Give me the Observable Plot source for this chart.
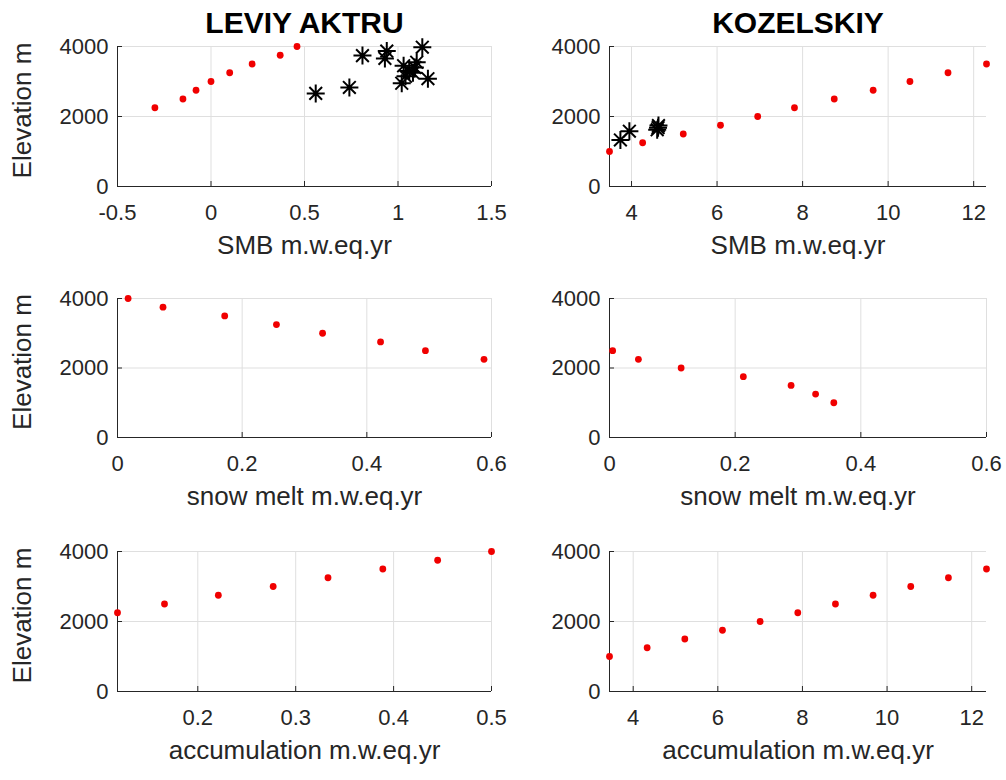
<!DOCTYPE html>
<html><head><meta charset="utf-8">
<script src="https://cdn.jsdelivr.net/npm/d3@7"></script>
<script src="https://cdn.jsdelivr.net/npm/@observablehq/plot@0.6"></script>
<style>
body{margin:0;background:#fff;}
#fig{position:relative;width:1006px;height:780px;overflow:hidden;background:#fff;}
#fig svg{position:absolute;overflow:visible;background:none;}
</style></head><body><div id="fig"></div>
<script>
// ---- data ----
const titles = ["LEVIY AKTRU", "KOZELSKIY"];
const xLabels = ["SMB m.w.eq.yr", "snow melt m.w.eq.yr", "accumulation m.w.eq.yr"];
const yLabel = "Elevation m";

const elevLeviy = [2250, 2500, 2750, 3000, 3250, 3500, 3750, 4000];
const smbLeviy = [-0.30, -0.15, -0.08, 0.00, 0.10, 0.22, 0.37, 0.46];
const meltLeviy = [0.588, 0.494, 0.422, 0.329, 0.255, 0.172, 0.073, 0.017];
const accLeviy = [0.118, 0.166, 0.221, 0.277, 0.333, 0.389, 0.445, 0.50];
const obsSmbLeviy = [0.56, 0.74, 0.81, 0.94, 0.93, 1.02, 1.03, 1.04, 1.06, 1.08, 1.09, 1.10, 1.13, 1.16];
const obsElevLeviy = [2660, 2830, 3740, 3870, 3660, 2950, 3450, 3150, 3300, 3250, 3400, 3550, 3980, 3080];

const elevKoz = [1000, 1250, 1500, 1750, 2000, 2250, 2500, 2750, 3000, 3250, 3500];
const smbKoz = [3.485, 4.26, 5.21, 6.08, 6.95, 7.81, 8.74, 9.65, 10.51, 11.40, 12.30];
const accKoz = [3.44, 4.33, 5.22, 6.11, 7.00, 7.89, 8.78, 9.67, 10.56, 11.45, 12.35];
const elevKozMelt = [2500, 2250, 2000, 1750, 1500, 1250, 1000];
const meltKoz = [0.005, 0.046, 0.114, 0.213, 0.289, 0.328, 0.357];
const obsSmbKoz = [3.74, 3.95, 4.60, 4.63, 4.62];
const obsElevKoz = [1330, 1580, 1620, 1740, 1680];

const elevTicks = [0, 2000, 4000];
const ticksSmbLeviy = [-0.5, 0, 0.5, 1, 1.5];
const ticksSmbKoz = [4, 6, 8, 10, 12];
const ticksMelt = [0, 0.2, 0.4, 0.6];
const ticksAccLeviy = [0.2, 0.3, 0.4, 0.5];
const ticksAccKoz = [4, 6, 8, 10, 12];

// ---- styling ----
const FONT = '"Liberation Sans", Arial, Helvetica, sans-serif';
const INK = "#262626";
const GRID = "#dfdfdf";

const asterisk = {
  draw(ctx, size) {
    const r = Math.sqrt(size / Math.PI), d = r * Math.SQRT1_2;
    ctx.moveTo(-r, 0); ctx.lineTo(r, 0);
    ctx.moveTo(0, -r); ctx.lineTo(0, r);
    ctx.moveTo(-d, -d); ctx.lineTo(d, d);
    ctx.moveTo(-d, d); ctx.lineTo(d, -d);
  }
};

const cols = [
  {left: 0, width: 503, ml: 117, mr: 12},
  {left: 503, width: 503, ml: 106, mr: 20}
];
const rows = [
  {top: 0, height: 270, mt: 46, mb: 84, labelDy: 59},
  {top: 270, height: 250, mt: 28, mb: 83, labelDy: 59},
  {top: 520, height: 260, mt: 31, mb: 89, labelDy: 59}
];

function panel(o) {
  const c = cols[o.col], rw = rows[o.row];
  const fw = c.width - c.ml - c.mr, fh = rw.height - rw.mt - rw.mb;
  const pts = o.x.map((v, i) => ({x: v, y: o.y[i]}));
  const obs = o.obsX ? o.obsX.map((v, i) => ({x: v, y: o.obsY[i]})) : [];
  const marks = [
    Plot.gridX(o.xTicks, {stroke: GRID, strokeOpacity: 1}),
    Plot.gridY(elevTicks, {stroke: GRID, strokeOpacity: 1}),
    Plot.ruleY([0], {stroke: INK}),
    Plot.ruleX([o.xDomain[0]], {stroke: INK}),
    Plot.tickX(o.xTicks, {x: d => d, insetTop: fh - 5, stroke: INK}),
    Plot.tickY(elevTicks, {y: d => d, insetRight: fw - 5, stroke: INK}),
    Plot.axisX(o.xTicks, {tickSize: 0, tickPadding: 18, fontSize: 22, fill: INK, tickFormat: d => String(d), label: null}),
    Plot.axisY(elevTicks, {tickSize: 0, tickPadding: 9, fontSize: 22, fill: INK, tickFormat: d => String(d), label: null}),
    Plot.dot(pts, {x: "x", y: "y", r: 3.4, fill: "#f00000", stroke: "none"}),
    Plot.dot(obs, {x: "x", y: "y", r: 9, symbol: asterisk, fill: "none", stroke: "black", strokeWidth: 2}),
    Plot.text([xLabels[o.row]], {frameAnchor: "bottom", lineAnchor: "middle", dy: rw.labelDy, text: d => d, fontSize: 26, fill: INK})
  ];
  if (o.col === 0) {
    marks.push(Plot.text([yLabel], {frameAnchor: "left", textAnchor: "middle", lineAnchor: "middle", dx: -95, dy: -6, rotate: -90, text: d => d, fontSize: 26, fill: INK}));
  }
  if (o.row === 0) {
    marks.push(Plot.text([titles[o.col]], {frameAnchor: "top", lineAnchor: "middle", dy: -23, text: d => d, fontSize: 30, fontWeight: "bold", fill: "black"}));
  }
  const svg = Plot.plot({
    width: c.width, height: rw.height,
    marginLeft: c.ml, marginRight: c.mr, marginTop: rw.mt, marginBottom: rw.mb,
    style: {fontFamily: FONT, background: "none", overflow: "visible"},
    x: {domain: o.xDomain},
    y: {domain: [0, 4000]},
    marks
  });
  svg.style.left = c.left + "px";
  svg.style.top = rw.top + "px";
  svg.style.position = "absolute";
  document.getElementById("fig").appendChild(svg);
}

panel({row: 0, col: 0, x: smbLeviy, y: elevLeviy, xDomain: [-0.5, 1.5], xTicks: ticksSmbLeviy, obsX: obsSmbLeviy, obsY: obsElevLeviy});
panel({row: 0, col: 1, x: smbKoz, y: elevKoz, xDomain: d3.extent(smbKoz), xTicks: ticksSmbKoz, obsX: obsSmbKoz, obsY: obsElevKoz});
panel({row: 1, col: 0, x: meltLeviy, y: elevLeviy, xDomain: [0, 0.6], xTicks: ticksMelt});
panel({row: 1, col: 1, x: meltKoz, y: elevKozMelt, xDomain: [0, 0.6], xTicks: ticksMelt});
panel({row: 2, col: 0, x: accLeviy, y: elevLeviy, xDomain: d3.extent(accLeviy), xTicks: ticksAccLeviy});
panel({row: 2, col: 1, x: accKoz, y: elevKoz, xDomain: d3.extent(accKoz), xTicks: ticksAccKoz});
</script></body></html>
